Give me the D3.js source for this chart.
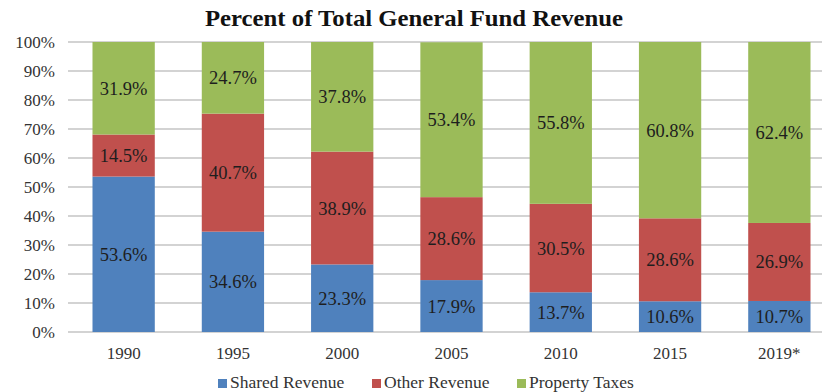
<!DOCTYPE html>
<html lang="en">
<head>
<meta charset="UTF-8">
<title>Percent of Total General Fund Revenue</title>
<script src="https://d3js.org/d3.v7.min.js"></script>
<style>
  body { margin: 0; background: #fff; }
</style>
</head>
<body>
<div id="chart"></div>
<script>
// data
var years = ["1990", "1995", "2000", "2005", "2010", "2015", "2019*"];
var sharedRevenue = [53.6, 34.6, 23.3, 17.9, 13.7, 10.6, 10.7];
var otherRevenue = [14.5, 40.7, 38.9, 28.6, 30.5, 28.6, 26.9];
var propertyTaxes = [31.9, 24.7, 37.8, 53.4, 55.8, 60.8, 62.4];
var seriesNames = ["Shared Revenue", "Other Revenue", "Property Taxes"];
var seriesColors = ["#4f81bd", "#c0504d", "#9bbb59"];
var yTicks = [0, 10, 20, 30, 40, 50, 60, 70, 80, 90, 100];

var width = 822, height = 392;
var margin = { top: 42, bottom: 60, left: 69 };
var serif = "'Liberation Serif', 'Times New Roman', serif";

var svg = d3.select("#chart").append("svg")
    .attr("width", width)
    .attr("height", height)
    .style("font-family", serif);

// the plot area runs a bit past the right edge of the picture
var x = d3.scaleBand()
    .domain(years)
    .range([margin.left, 834])
    .paddingInner(0.43)
    .paddingOuter(0.215);

var y = d3.scaleLinear()
    .domain([0, 100])
    .range([height - margin.bottom, margin.top]);

// gridlines
svg.append("g")
    .selectAll("line")
    .data(yTicks)
    .enter().append("line")
    .attr("x1", margin.left - 1)
    .attr("x2", width)
    .attr("y1", function(d) { return y(d); })
    .attr("y2", function(d) { return y(d); })
    .attr("stroke", "#c4c4c4")
    .attr("stroke-width", 1.5);

// y axis labels
var yAxis = svg.append("g")
    .attr("transform", "translate(55,0)")
    .call(d3.axisLeft(y).tickValues(yTicks).tickSize(0).tickPadding(0).tickFormat(function(d) { return d + "%"; }));
yAxis.select(".domain").remove();
yAxis.selectAll("text")
    .style("font-family", serif)
    .style("font-size", "17px")
    .attr("fill", "#333");

// stack
var rows = years.map(function(yr, i) {
    return { year: yr, "Shared Revenue": sharedRevenue[i], "Other Revenue": otherRevenue[i], "Property Taxes": propertyTaxes[i] };
});
var stack = d3.stack().keys(seriesNames)(rows);

var layers = svg.append("g")
    .selectAll("g")
    .data(stack)
    .enter().append("g")
    .attr("fill", function(d, i) { return seriesColors[i]; });

layers.selectAll("rect")
    .data(function(d) { return d; })
    .enter().append("rect")
    .attr("x", function(d) { return x(d.data.year); })
    .attr("width", x.bandwidth())
    .attr("y", function(d) { return y(d[1]); })
    .attr("height", function(d) { return y(d[0]) - y(d[1]); });

layers.selectAll("text")
    .data(function(d) { return d; })
    .enter().append("text")
    .attr("x", function(d) { return x(d.data.year) + x.bandwidth() / 2; })
    .attr("y", function(d) { return y((d[0] + d[1]) / 2); })
    .attr("dy", "0.35em")
    .attr("text-anchor", "middle")
    .style("font-size", "18.5px")
    .attr("fill", "#1e1e1e")
    .text(function(d) { return (d[1] - d[0]).toFixed(1) + "%"; });

// x axis labels
var xAxis = svg.append("g")
    .attr("transform", "translate(0," + (height - margin.bottom) + ")")
    .call(d3.axisBottom(x).tickSize(0).tickPadding(0));
xAxis.select(".domain").remove();
xAxis.selectAll("text")
    .attr("y", 27)
    .attr("dy", null)
    .style("font-family", serif)
    .style("font-size", "17px")
    .attr("fill", "#333");

// title (the scan is a little wider than the font)
svg.append("text")
    .attr("x", 205)
    .attr("y", 26)
    .attr("textLength", 418)
    .attr("lengthAdjust", "spacingAndGlyphs")
    .style("font-size", "23.5px")
    .style("font-weight", "bold")
    .attr("fill", "#111")
    .text("Percent of Total General Fund Revenue");

// legend
var legendX = [218, 372, 517];
var legend = svg.append("g")
    .selectAll("g")
    .data(seriesNames)
    .enter().append("g")
    .attr("transform", function(d, i) { return "translate(" + legendX[i] + ",388)"; });
legend.append("rect")
    .attr("x", 0)
    .attr("y", -9)
    .attr("width", 9)
    .attr("height", 9)
    .attr("fill", function(d, i) { return seriesColors[i]; });
legend.append("text")
    .attr("x", 12)
    .style("font-size", "17.5px")
    .attr("fill", "#333")
    .text(function(d) { return d; });
</script>
</body>
</html>
